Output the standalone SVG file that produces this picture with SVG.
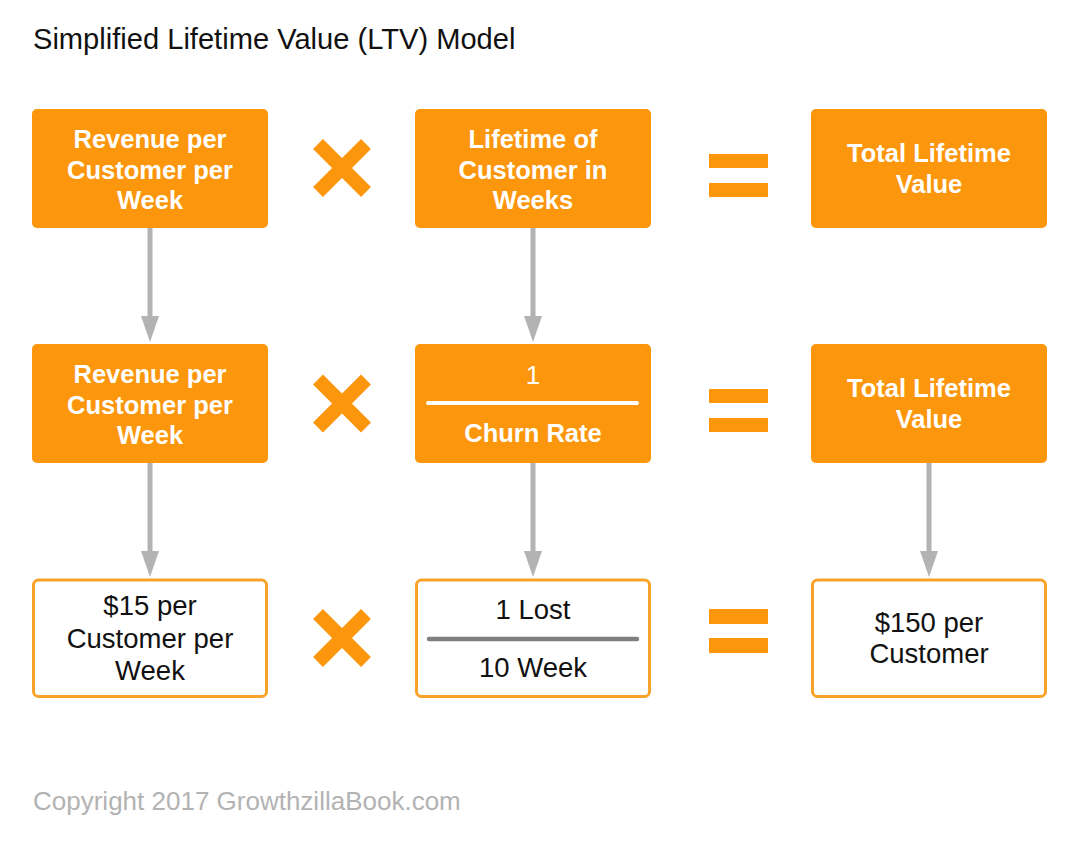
<svg xmlns="http://www.w3.org/2000/svg" width="1078" height="843" viewBox="0 0 1078 843">
<defs>
<style>
.bg{fill:#ffffff}
.title{font-family:"Liberation Sans",Arial,Helvetica,sans-serif;font-size:29.1px;fill:#111111}
.copy{font-family:"Liberation Sans",Arial,Helvetica,sans-serif;font-size:26px;fill:#b3b3b3}
.solid{fill:#fc960c}
.outline{fill:#ffffff;stroke:#f7a32a;stroke-width:3}
.lb{font-family:"Liberation Sans",Arial,Helvetica,sans-serif;font-size:25.5px;font-weight:bold;fill:#ffffff;text-anchor:middle}
.lw{font-family:"Liberation Sans",Arial,Helvetica,sans-serif;font-size:26px;fill:#ffffff;text-anchor:middle}
.lr{font-family:"Liberation Sans",Arial,Helvetica,sans-serif;font-size:27.5px;fill:#111111;text-anchor:middle}
.times{stroke:#fc960c;stroke-width:14;stroke-linecap:butt;fill:none}
.eq{fill:#fc960c}
.conn{stroke:#b3b3b3;stroke-width:5;fill:none}
.fracw{stroke:#ffffff;stroke-width:4;stroke-linecap:round}
.fracg{stroke:#7f7f7f;stroke-width:4.5;stroke-linecap:round}
</style>
<marker id="ah" markerUnits="userSpaceOnUse" markerWidth="26" markerHeight="18" refX="14" refY="9" orient="auto">
<path d="M0,0 L26,9 L0,18 Z" fill="#b3b3b3"/>
</marker>
</defs>
<rect class="bg" x="0" y="0" width="1078" height="843"/>
<text class="title" x="33" y="49">Simplified Lifetime Value (LTV) Model</text>

<g id="connectors">
<line class="conn" x1="150" y1="228" x2="150" y2="330" marker-end="url(#ah)"/>
<line class="conn" x1="533" y1="228" x2="533" y2="330" marker-end="url(#ah)"/>
<line class="conn" x1="150" y1="463" x2="150" y2="565" marker-end="url(#ah)"/>
<line class="conn" x1="533" y1="463" x2="533" y2="565" marker-end="url(#ah)"/>
<line class="conn" x1="929" y1="463" x2="929" y2="565" marker-end="url(#ah)"/>
</g>

<g id="r1c1">
<rect class="solid" x="32" y="109" width="236" height="119" rx="5"/>
<text class="lb" x="150" y="148">Revenue per</text>
<text class="lb" x="150" y="178.5">Customer per</text>
<text class="lb" x="150" y="209">Week</text>
</g>
<g id="r1times"><path class="times" d="M318,144 L366,192 M366,144 L318,192"/></g>
<g id="r1c2">
<rect class="solid" x="415" y="109" width="236" height="119" rx="5"/>
<text class="lb" x="533" y="148">Lifetime of</text>
<text class="lb" x="533" y="178.5">Customer in</text>
<text class="lb" x="533" y="209">Weeks</text>
</g>
<g id="r1eq"><rect class="eq" x="709" y="154" width="59" height="14"/><rect class="eq" x="709" y="183" width="59" height="14"/></g>
<g id="r1c3">
<rect class="solid" x="811" y="109" width="236" height="119" rx="5"/>
<text class="lb" x="929" y="162">Total Lifetime</text>
<text class="lb" x="929" y="193">Value</text>
</g>

<g id="r2c1">
<rect class="solid" x="32" y="344" width="236" height="119" rx="5"/>
<text class="lb" x="150" y="383">Revenue per</text>
<text class="lb" x="150" y="413.5">Customer per</text>
<text class="lb" x="150" y="444">Week</text>
</g>
<g id="r2times"><path class="times" d="M318,379.5 L366,427.5 M366,379.5 L318,427.5"/></g>
<g id="r2c2">
<rect class="solid" x="415" y="344" width="236" height="119" rx="5"/>
<text class="lw" x="533" y="384">1</text>
<line class="fracw" x1="428" y1="403" x2="637" y2="403"/>
<text class="lb" x="533" y="442">Churn Rate</text>
</g>
<g id="r2eq"><rect class="eq" x="709" y="389" width="59" height="14"/><rect class="eq" x="709" y="418" width="59" height="14"/></g>
<g id="r2c3">
<rect class="solid" x="811" y="344" width="236" height="119" rx="5"/>
<text class="lb" x="929" y="397">Total Lifetime</text>
<text class="lb" x="929" y="428">Value</text>
</g>

<g id="r3c1">
<rect class="outline" x="33.5" y="580" width="233" height="116.5" rx="5"/>
<text class="lr" x="150" y="615">$15 per</text>
<text class="lr" x="150" y="647.5">Customer per</text>
<text class="lr" x="150" y="680">Week</text>
</g>
<g id="r3times"><path class="times" d="M318,614 L366,662 M366,614 L318,662"/></g>
<g id="r3c2">
<rect class="outline" x="416.5" y="580" width="233" height="116.5" rx="5"/>
<text class="lr" x="533" y="619">1 Lost</text>
<line class="fracg" x1="429" y1="639" x2="637" y2="639"/>
<text class="lr" x="533" y="677">10 Week</text>
</g>
<g id="r3eq"><rect class="eq" x="709" y="609" width="59" height="15"/><rect class="eq" x="709" y="638" width="59" height="15"/></g>
<g id="r3c3">
<rect class="outline" x="812.5" y="580" width="233" height="116.5" rx="5"/>
<text class="lr" x="929" y="632">$150 per</text>
<text class="lr" x="929" y="663">Customer</text>
</g>

<text class="copy" x="33" y="810">Copyright 2017 GrowthzillaBook.com</text>
</svg>
